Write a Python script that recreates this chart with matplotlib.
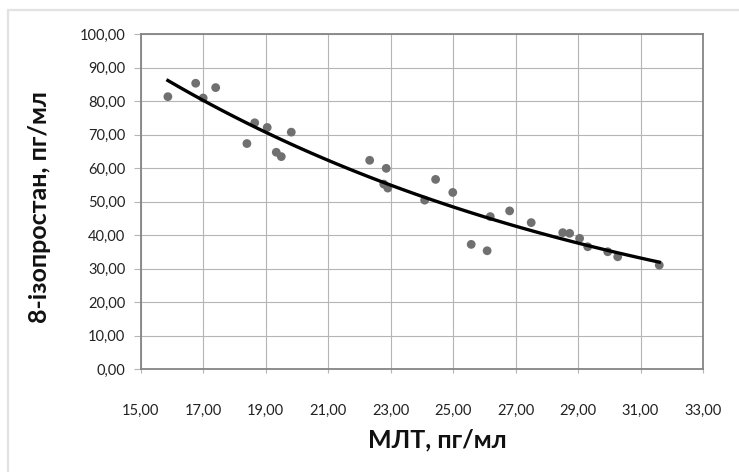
import numpy as np
import matplotlib
matplotlib.use("Agg")
import matplotlib.pyplot as plt
from matplotlib.patches import Rectangle
from matplotlib.ticker import FuncFormatter, MultipleLocator

# МЛТ (x) and 8-ізопростан (y)
mlt = [15.87, 16.76, 17.40, 17.00, 18.65, 19.05, 19.82, 18.40, 19.34, 19.50,
       22.33, 22.86, 22.78, 22.91, 24.44, 24.99, 24.09, 26.19, 26.81, 27.50,
       25.58, 26.09, 28.51, 28.73, 29.05, 29.31, 29.95, 30.27, 31.60]
isoprostane = [81.3, 85.3, 84.0, 80.9, 73.5, 72.1, 70.7, 67.3, 64.7, 63.4,
               62.3, 59.9, 55.2, 54.0, 56.6, 52.7, 50.4, 45.5, 47.2, 43.7,
               37.2, 35.3, 40.7, 40.5, 39.0, 36.5, 35.0, 33.5, 31.0]

x_ticks = [15, 17, 19, 21, 23, 25, 27, 29, 31, 33]
x_label = "МЛТ, пг/мл"
y_label = "8-ізопростан, пг/мл"

plt.rcParams['font.family'] = ['Lato', 'DejaVu Sans']

x = np.array(mlt)
y = np.array(isoprostane)

# exponential trendline, like Excel does it
b, ln_a = np.polyfit(x, np.log(y), 1)
tx = np.linspace(x.min(), x.max(), 100)
ty = np.exp(ln_a) * np.exp(b * tx)

fig = plt.figure(figsize=(7.39, 4.72), dpi=100)
ax = fig.add_axes([140.7 / 739, 1 - 369 / 472, (703 - 140.7) / 739, (369 - 34) / 472])

ax.scatter(x, y, s=40, color='#707070', edgecolors='none', zorder=3)
ax.plot(tx, ty, color='black', lw=2.4, zorder=4)

ax.set_xlim(15, 33)
ax.set_ylim(0, 100)
ax.set_xticks(x_ticks)
ax.yaxis.set_major_locator(MultipleLocator(10))
fmt = FuncFormatter(lambda v, p: f"{v:.2f}".replace('.', ','))
ax.xaxis.set_major_formatter(fmt)
ax.yaxis.set_major_formatter(fmt)

ax.grid(True, color='#b5b5b5', lw=0.8)
ax.set_axisbelow(True)
for s in ax.spines.values():
    s.set_color('#858585')
    s.set_linewidth(1.3)

ax.tick_params(axis='x', length=3, width=0.8, color='#b5b5b5', pad=22,
               labelsize=10.5, labelcolor='#222222')
ax.tick_params(axis='y', length=5, width=0.8, color='#b5b5b5', pad=6,
               labelsize=10.5, labelcolor='#222222')

fig.text(437 / 739, 1 - 440 / 472, x_label, ha='center', va='center',
         fontsize=18, fontweight='bold', color='#111111')
fig.text(40 / 739, 1 - 207 / 472, y_label, ha='center', va='center',
         rotation=90, fontsize=18, fontweight='bold', color='#111111')

# light chart frame
fig.patches.append(Rectangle((8 / 739, -0.1), 1.2, 1 - 10 / 472 + 0.1,
                             transform=fig.transFigure, fill=False,
                             edgecolor='#e2e2e2', lw=1.6))

fig.savefig("out.png", dpi=100)
